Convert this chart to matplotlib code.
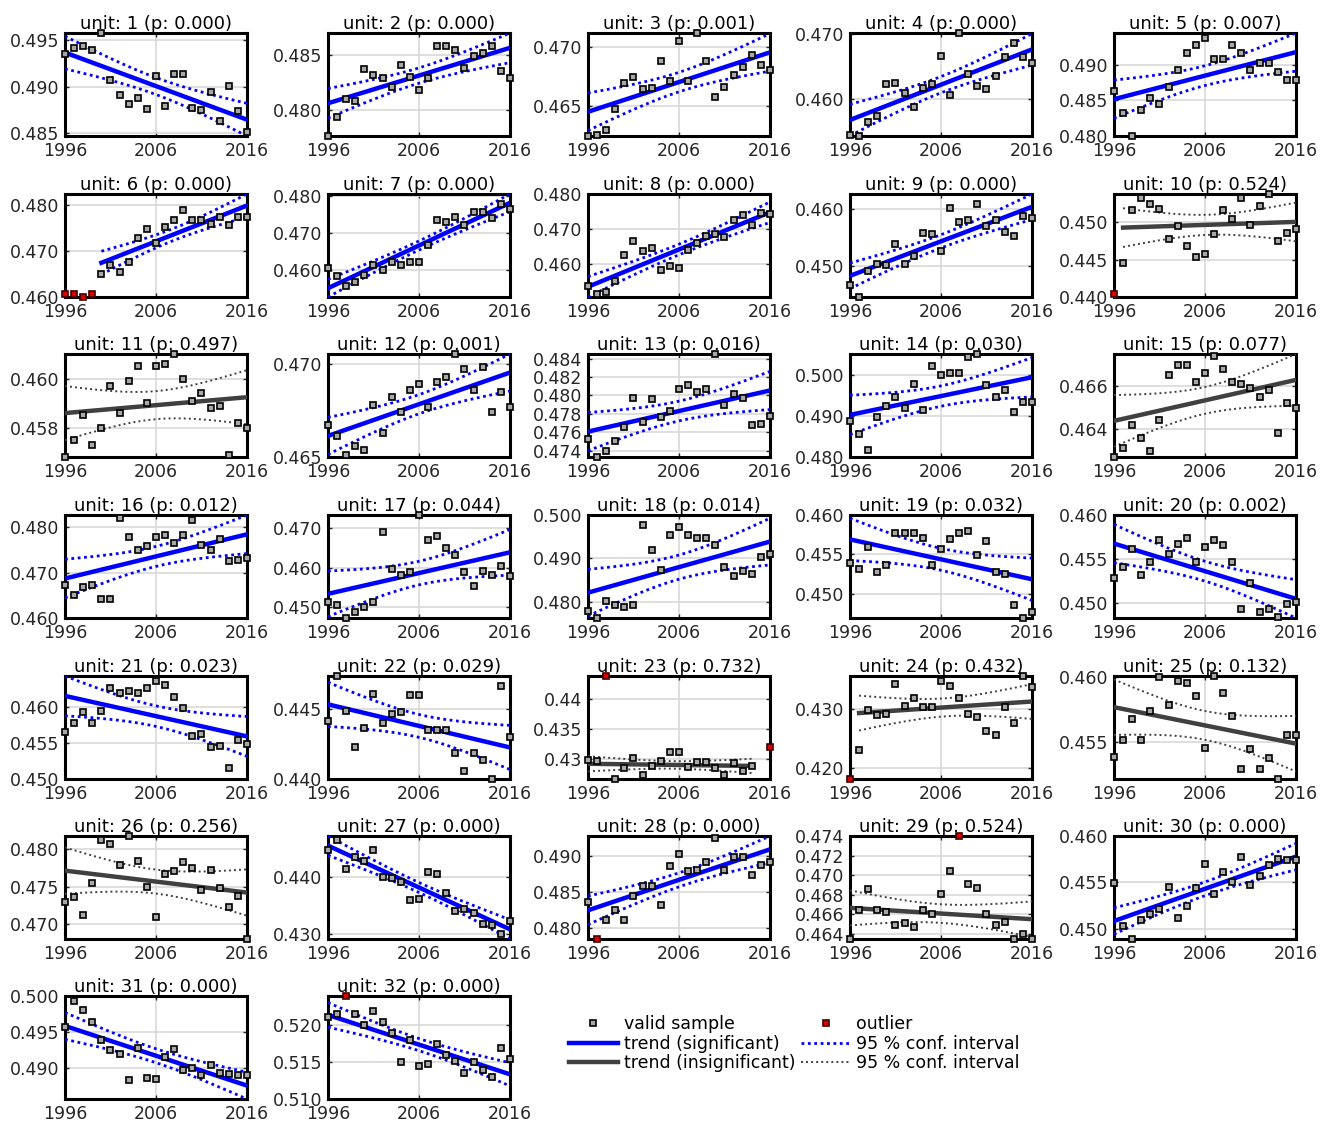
import numpy as np
import matplotlib
matplotlib.use("Agg")
import matplotlib.pyplot as plt
from matplotlib.lines import Line2D

years = np.arange(1996, 2017)

# one value per year 1996..2016
unit01 = [0.4935, 0.4942, 0.4944, 0.4940, 0.4958, 0.4907, 0.4891, 0.4882, 0.4888, 0.4876, 0.4912,
          0.4879, 0.4914, 0.4914, 0.4877, 0.4875, 0.4894, 0.4863, 0.4901, 0.4874, 0.4851]
unit02 = [0.4776, 0.4793, 0.4810, 0.4808, 0.4837, 0.4832, 0.4829, 0.4821, 0.4841, 0.4830, 0.4818,
          0.4829, 0.4858, 0.4858, 0.4855, 0.4838, 0.4849, 0.4852, 0.4858, 0.4835, 0.4829]
unit03 = [0.4624, 0.4625, 0.4629, 0.4647, 0.4669, 0.4674, 0.4664, 0.4665, 0.4688, 0.4671, 0.4705,
          0.4671, 0.4712, 0.4688, 0.4657, 0.4666, 0.4676, 0.4683, 0.4693, 0.4685, 0.4680]
unit04 = [0.4544, 0.4543, 0.4565, 0.4573, 0.4623, 0.4624, 0.4609, 0.4587, 0.4617, 0.4623, 0.4666,
          0.4606, 0.4701, 0.4638, 0.4619, 0.4615, 0.4635, 0.4664, 0.4685, 0.4664, 0.4655]
unit05 = [0.4863, 0.4832, 0.4800, 0.4836, 0.4854, 0.4845, 0.4869, 0.4893, 0.4917, 0.4928, 0.4937,
          0.4908, 0.4908, 0.4928, 0.4917, 0.4892, 0.4902, 0.4903, 0.4890, 0.4879, 0.4878]
unit06 = [0.4606, 0.4607, 0.4600, 0.4607, 0.4649, 0.4669, 0.4654, 0.4675, 0.4727, 0.4747, 0.4716,
          0.4752, 0.4766, 0.4789, 0.4767, 0.4767, 0.4757, 0.4774, 0.4756, 0.4774, 0.4774]
unit07 = [0.4606, 0.4583, 0.4557, 0.4567, 0.4586, 0.4614, 0.4599, 0.4622, 0.4613, 0.4620, 0.4621,
          0.4668, 0.4735, 0.4731, 0.4743, 0.4721, 0.4757, 0.4757, 0.4742, 0.4780, 0.4766]
unit08 = [0.4537, 0.4515, 0.4520, 0.4551, 0.4625, 0.4667, 0.4637, 0.4646, 0.4585, 0.4596, 0.4588,
          0.4641, 0.4661, 0.4681, 0.4687, 0.4677, 0.4727, 0.4741, 0.4711, 0.4746, 0.4744]
unit09 = [0.4466, 0.4445, 0.4490, 0.4504, 0.4501, 0.4538, 0.4504, 0.4517, 0.4557, 0.4556, 0.4526,
          0.4602, 0.4577, 0.4580, 0.4609, 0.4570, 0.4580, 0.4560, 0.4552, 0.4588, 0.4584]
unit10 = [0.4404, 0.4445, 0.4516, 0.4533, 0.4525, 0.4518, 0.4478, 0.4495, 0.4468, 0.4454, 0.4458,
          0.4484, 0.4516, 0.4504, 0.4533, 0.4497, 0.4522, 0.4538, 0.4475, 0.4486, 0.4491]
unit11 = [0.4568, 0.4575, 0.4585, 0.4573, 0.4580, 0.4597, 0.4586, 0.4599, 0.4605, 0.4590, 0.4605,
          0.4606, 0.4610, 0.4600, 0.4591, 0.4594, 0.4588, 0.4589, 0.4569, 0.4582, 0.4580]
unit12 = [0.4667, 0.4661, 0.4651, 0.4656, 0.4654, 0.4678, 0.4663, 0.4682, 0.4674, 0.4686, 0.4689,
          0.4677, 0.4690, 0.4693, 0.4705, 0.4697, 0.4686, 0.4698, 0.4674, 0.4685, 0.4677]
unit13 = [0.4753, 0.4733, 0.4740, 0.4750, 0.4766, 0.4797, 0.4771, 0.4796, 0.4776, 0.4783, 0.4807,
          0.4811, 0.4804, 0.4807, 0.4845, 0.4790, 0.4802, 0.4797, 0.4768, 0.4769, 0.4778]
unit14 = [0.4888, 0.4856, 0.4816, 0.4897, 0.4924, 0.4946, 0.4919, 0.4978, 0.4915, 0.5022, 0.5000,
          0.5006, 0.5006, 0.5044, 0.5052, 0.4976, 0.4946, 0.4963, 0.4909, 0.4934, 0.4934]
unit15 = [0.4627, 0.4631, 0.4642, 0.4636, 0.4630, 0.4644, 0.4665, 0.4670, 0.4670, 0.4662, 0.4666,
          0.4674, 0.4668, 0.4662, 0.4661, 0.4659, 0.4655, 0.4658, 0.4638, 0.4652, 0.4650]
unit16 = [0.4672, 0.4651, 0.4669, 0.4673, 0.4643, 0.4641, 0.4820, 0.4779, 0.4751, 0.4759, 0.4778,
          0.4783, 0.4766, 0.4783, 0.4816, 0.4761, 0.4750, 0.4774, 0.4726, 0.4728, 0.4733]
unit17 = [0.4513, 0.4505, 0.4473, 0.4488, 0.4502, 0.4514, 0.4691, 0.4596, 0.4581, 0.4589, 0.4733,
          0.4670, 0.4679, 0.4650, 0.4633, 0.4588, 0.4553, 0.4592, 0.4581, 0.4605, 0.4579]
unit18 = [0.4780, 0.4763, 0.4802, 0.4792, 0.4789, 0.4793, 0.4976, 0.4920, 0.4873, 0.4953, 0.4973,
          0.4955, 0.4947, 0.4947, 0.4931, 0.4880, 0.4859, 0.4870, 0.4865, 0.4904, 0.4910]
unit19 = [0.4539, 0.4531, 0.4559, 0.4528, 0.4537, 0.4577, 0.4577, 0.4577, 0.4571, 0.4536, 0.4557,
          0.4570, 0.4577, 0.4580, 0.4549, 0.4567, 0.4528, 0.4525, 0.4485, 0.4469, 0.4477]
unit20 = [0.4528, 0.4541, 0.4561, 0.4532, 0.4547, 0.4572, 0.4555, 0.4567, 0.4574, 0.4547, 0.4563,
          0.4572, 0.4566, 0.4547, 0.4493, 0.4523, 0.4490, 0.4493, 0.4484, 0.4499, 0.4501]
unit21 = [0.4566, 0.4578, 0.4594, 0.4578, 0.4595, 0.4627, 0.4620, 0.4622, 0.4620, 0.4627, 0.4636,
          0.4631, 0.4615, 0.4599, 0.4560, 0.4563, 0.4544, 0.4546, 0.4515, 0.4555, 0.4549]
unit22 = [0.4442, 0.4474, 0.4449, 0.4423, 0.4437, 0.4461, 0.4440, 0.4447, 0.4448, 0.4460, 0.4460,
          0.4435, 0.4435, 0.4435, 0.4419, 0.4406, 0.4419, 0.4414, 0.4400, 0.4467, 0.4430]
unit23 = [0.4297, 0.4296, 0.4438, 0.4266, 0.4284, 0.4301, 0.4272, 0.4287, 0.4296, 0.4311, 0.4311,
          0.4286, 0.4294, 0.4295, 0.4284, 0.4272, 0.4293, 0.4280, 0.4287, np.nan, 0.4320]
unit24 = [0.4181, 0.4230, 0.4298, 0.4289, 0.4290, 0.4342, 0.4305, 0.4318, 0.4302, 0.4303, 0.4347,
          0.4338, 0.4318, 0.4291, 0.4285, 0.4262, 0.4256, 0.4302, 0.4275, 0.4355, 0.4337]
unit25 = [0.4539, 0.4552, 0.4568, 0.4552, 0.4574, 0.4600, 0.4579, 0.4597, 0.4596, 0.4586, 0.4546,
          0.4601, 0.4588, 0.4570, 0.4530, 0.4545, 0.4530, 0.4538, 0.4522, 0.4556, 0.4556]
unit26 = [0.4729, 0.4736, 0.4712, 0.4755, 0.4813, 0.4807, 0.4779, 0.4818, 0.4785, 0.4750, 0.4710,
          0.4767, 0.4771, 0.4783, 0.4775, 0.4745, 0.4772, 0.4748, 0.4723, 0.4737, 0.4680]
unit27 = [0.4448, 0.4466, 0.4414, 0.4435, 0.4429, 0.4448, 0.4400, 0.4399, 0.4392, 0.4359, 0.4361,
          0.4409, 0.4405, 0.4372, 0.4340, 0.4344, 0.4337, 0.4318, 0.4315, 0.4299, 0.4323]
unit28 = [0.4836, 0.4784, 0.4811, 0.4824, 0.4811, 0.4844, 0.4858, 0.4858, 0.4832, 0.4886, 0.4903,
          0.4879, 0.4881, 0.4892, 0.4925, 0.4881, 0.4898, 0.4899, 0.4873, 0.4887, 0.4892]
unit29 = [0.4635, 0.4665, 0.4686, 0.4665, 0.4663, 0.4649, 0.4651, 0.4647, 0.4665, 0.4660, 0.4681,
          0.4704, 0.4740, 0.4691, 0.4687, 0.4660, 0.4649, 0.4652, 0.4635, 0.4640, 0.4635]
unit30 = [0.4549, 0.4503, 0.4489, 0.4510, 0.4516, 0.4521, 0.4545, 0.4512, 0.4525, 0.4544, 0.4570,
          0.4537, 0.4561, 0.4550, 0.4577, 0.4547, 0.4557, 0.4569, 0.4575, 0.4574, 0.4574]
unit31 = [0.4957, 0.4993, 0.4981, 0.4963, 0.4938, 0.4924, 0.4919, 0.4882, 0.4927, 0.4885, 0.4884,
          0.4915, 0.4926, 0.4897, 0.4899, 0.4890, 0.4903, 0.4892, 0.4891, 0.4890, 0.4889]
unit32 = [0.5211, 0.5215, 0.5240, 0.5215, 0.5200, 0.5220, 0.5205, 0.5190, 0.5150, 0.5180, 0.5145,
          0.5148, 0.5175, 0.5160, 0.5152, 0.5135, 0.5150, 0.5140, 0.5130, 0.5170, 0.5155]

units = [unit01, unit02, unit03, unit04, unit05, unit06, unit07, unit08, unit09, unit10,
         unit11, unit12, unit13, unit14, unit15, unit16, unit17, unit18, unit19, unit20,
         unit21, unit22, unit23, unit24, unit25, unit26, unit27, unit28, unit29, unit30,
         unit31, unit32]

p_values = [0.000, 0.000, 0.001, 0.000, 0.007, 0.000, 0.000, 0.000, 0.000, 0.524,
            0.497, 0.001, 0.016, 0.030, 0.077, 0.012, 0.044, 0.014, 0.032, 0.002,
            0.023, 0.029, 0.732, 0.432, 0.132, 0.256, 0.000, 0.000, 0.524, 0.000,
            0.000, 0.000]

outlier_years = {6: [1996, 1997, 1998, 1999], 10: [1996], 23: [1998, 2016], 24: [1996],
                 28: [1997], 29: [2008], 32: [1998]}

ytick_sets = [
    [0.485, 0.490, 0.495], [0.480, 0.485], [0.465, 0.470], [0.460, 0.470], [0.480, 0.485, 0.490],
    [0.460, 0.470, 0.480], [0.460, 0.470, 0.480], [0.460, 0.470, 0.480], [0.450, 0.460], [0.440, 0.445, 0.450],
    [0.458, 0.460], [0.465, 0.470], [0.474, 0.476, 0.478, 0.480, 0.482, 0.484], [0.480, 0.490, 0.500], [0.464, 0.466],
    [0.460, 0.470, 0.480], [0.450, 0.460, 0.470], [0.480, 0.490, 0.500], [0.450, 0.455, 0.460], [0.450, 0.455, 0.460],
    [0.450, 0.455, 0.460], [0.440, 0.445], [0.43, 0.435, 0.44], [0.420, 0.430], [0.455, 0.460],
    [0.470, 0.475, 0.480], [0.430, 0.440], [0.480, 0.485, 0.490], [0.464, 0.466, 0.468, 0.470, 0.472, 0.474],
    [0.450, 0.455, 0.460], [0.490, 0.495, 0.500], [0.510, 0.515, 0.520]]

xticks = [1996, 2006, 2016]

BLUE = "#0000ff"
DGRAY = "#404040"
MS = 4.6

W, H = 1325, 1124
fig = plt.figure(figsize=(W / 100, H / 100), dpi=100)
plt.rcParams["font.family"] = "DejaVu Sans"

col_left = [65, 328, 588, 850, 1114]
row_top = [33, 194, 354, 515, 676, 836, 996]
ax_w, ax_h = 182, 103


def trend_fit(x, y):
    n = len(x)
    b, a = np.polyfit(x, y, 1)
    xs = np.linspace(x.min(), x.max(), 80)
    fit = a + b * xs
    res = y - (a + b * x)
    s = np.sqrt(np.sum(res ** 2) / (n - 2))
    sxx = np.sum((x - x.mean()) ** 2)
    t = 1.96 + 2.4 / (n - 2)
    half = t * s * np.sqrt(1.0 / n + (xs - x.mean()) ** 2 / sxx)
    return xs, fit, fit - half, fit + half


for i, vals in enumerate(units):
    num = i + 1
    r, c = divmod(i, 5)
    ax = fig.add_axes([col_left[c] / W, 1 - (row_top[r] + ax_h) / H, ax_w / W, ax_h / H])
    y = np.array(vals, dtype=float)
    good = ~np.isnan(y)
    out = np.isin(years, outlier_years.get(num, [])) & good
    valid = good & ~out

    xs, fit, lo, hi = trend_fit(years[valid].astype(float), y[valid])
    sig = p_values[i] < 0.05
    if sig:
        ax.plot(xs, hi, color=BLUE, lw=2.0, ls=(0, (1, 1.3)), zorder=3)
        ax.plot(xs, lo, color=BLUE, lw=2.0, ls=(0, (1, 1.3)), zorder=3)
        ax.plot(xs, fit, color=BLUE, lw=3.2, zorder=4)
    else:
        ax.plot(xs, hi, color=DGRAY, lw=1.4, ls=(0, (1, 1.6)), zorder=3)
        ax.plot(xs, lo, color=DGRAY, lw=1.4, ls=(0, (1, 1.6)), zorder=3)
        ax.plot(xs, fit, color=DGRAY, lw=3.2, zorder=4)

    ax.plot(years[valid], y[valid], "s", ms=MS, mfc="#a8a8a8", mec="black", mew=1.2,
            zorder=5, clip_on=False)
    if out.any():
        ax.plot(years[out], y[out], "s", ms=MS, mfc="#dd0000", mec="#400000", mew=1.2,
                zorder=5, clip_on=False)

    ticks = ytick_sets[i]
    ymin = min(np.nanmin(y), lo.min(), ticks[0])
    ymax = max(np.nanmax(y), hi.max(), ticks[-1])
    ax.set_ylim(ymin, ymax)
    ax.set_xlim(1996, 2016)
    ax.set_xticks(xticks)
    ax.set_yticks(ticks)
    if num == 23:
        ax.set_yticklabels(["%g" % v for v in ticks])
    else:
        ax.set_yticklabels(["%.3f" % v for v in ticks])
    ax.grid(True, color="#d9d9d9", lw=1.2, zorder=0)
    ax.set_axisbelow(True)
    ax.tick_params(direction="in", length=3, width=1, top=True, right=True,
                   labelsize=12.5, colors="#262626", pad=4)
    for sp in ax.spines.values():
        sp.set_linewidth(2.2)
        sp.set_color("black")
    ax.set_title("unit: %d (p: %.3f)" % (num, p_values[i]), fontsize=13, pad=3, color="black")

handles = [
    Line2D([], [], ls="none", marker="s", ms=MS, mfc="#a8a8a8", mec="black", mew=1.2),
    Line2D([], [], color=BLUE, lw=3.2),
    Line2D([], [], color=DGRAY, lw=3.2),
    Line2D([], [], ls="none", marker="s", ms=MS, mfc="#dd0000", mec="#400000", mew=1.2),
    Line2D([], [], color=BLUE, lw=2.0, ls=(0, (1, 1.3))),
    Line2D([], [], color=DGRAY, lw=1.4, ls=(0, (1, 1.6))),
]
labels = ["valid sample", "trend (significant)", "trend (insignificant)",
          "outlier", "95 % conf. interval", "95 % conf. interval"]
fig.legend(handles, labels, loc="upper left", bbox_to_anchor=(562 / W, 1 - 1008 / H),
           ncol=2, frameon=False, fontsize=12.5, handlelength=2.8, handletextpad=0.35,
           columnspacing=0.35, labelspacing=0.1, borderaxespad=0)

fig.savefig("out.png", dpi=100)
